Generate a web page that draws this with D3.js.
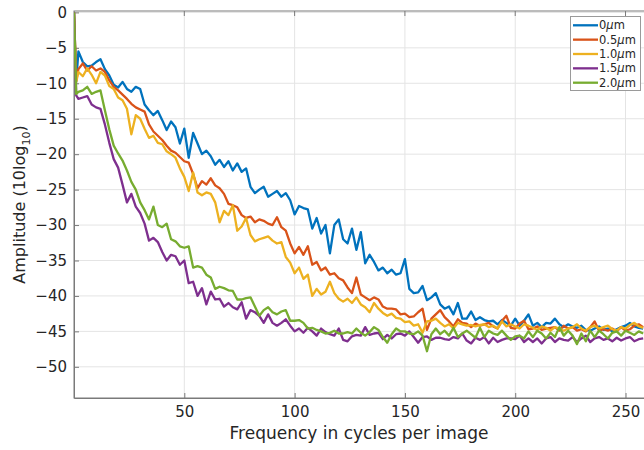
<!DOCTYPE html>
<html>
<head>
<meta charset="utf-8">
<script src="https://cdn.jsdelivr.net/npm/d3@7"></script>
<style>
  body { margin: 0; background: #fff; }
  svg { display: block; font-family: "DejaVu Sans", sans-serif; }
</style>
</head>
<body>
<div id="chart"></div>
<script>
// frequency grid: DC, 1, then every 2 cycles up to 258
const freq = [0, 1].concat(d3.range(2, 260, 2));

const labels = ["0", "0.5", "1.0", "1.5", "2.0"];
const colors = ["#0072BD", "#D95319", "#EDB120", "#7E2F8E", "#77AC30"];

const amp00 = [
  0, -9.8, -5.5, -7.0, -7.6, -7.5, -7.0, -6.6, -8.0, -8.9,
  -10.2, -10.6, -9.8, -10.8, -11.2, -10.5, -10.8, -13.0, -13.8, -14.5,
  -13.9, -15.2, -16.6, -15.4, -16.2, -18.5, -16.4, -20.5, -17.0, -18.5,
  -20.0, -19.5, -20.3, -21.5, -20.8, -21.8, -21.0, -22.3, -21.3, -22.5,
  -22.0, -24.6, -25.5, -25.0, -24.6, -26.0, -25.6, -25.2, -26.0, -25.5,
  -26.5, -28.5, -27.3, -27.6, -27.8, -30.5, -29.0, -31.2, -30.0, -34.0,
  -30.0, -29.2, -32.0, -32.6, -30.5, -33.5, -31.0, -35.4, -34.2, -35.2,
  -36.4, -36.0, -36.8, -36.3, -37.0, -36.8, -34.8, -39.0, -39.6, -39.5,
  -38.6, -40.6, -40.2, -39.6, -41.2, -41.8, -41.5, -42.6, -41.0, -43.2,
  -43.2, -42.2, -43.4, -43.0, -43.4, -43.6, -43.5, -44.0, -43.4, -43.8,
  -44.2, -43.2, -44.2, -43.5, -42.6, -44.2, -43.8, -44.4, -43.8, -43.9,
  -43.2, -44.0, -44.4, -44.0, -44.3, -44.5, -44.2, -44.8, -44.9, -44.6,
  -44.3, -44.8, -44.6, -45.0, -44.7, -44.4, -44.2, -43.8, -44.3, -44.5,
  -44.6
];

const amp05 = [
  0, -9.6, -8.0, -7.2, -8.2, -7.6, -8.2, -7.9, -8.4, -9.6,
  -10.5, -11.0, -11.6, -12.2, -12.9, -13.4, -13.7, -14.0, -15.8, -16.8,
  -17.4, -18.0, -18.8, -19.5, -19.8, -20.4, -21.0, -21.2, -22.8, -24.8,
  -23.8, -24.3, -23.4, -24.4, -24.8, -25.6, -27.0, -27.2, -27.5, -28.6,
  -29.0, -28.8, -29.6, -29.2, -29.4, -29.8, -30.0, -28.9, -30.3, -30.8,
  -32.6, -34.0, -33.1, -34.2, -33.0, -35.6, -35.2, -36.4, -36.0, -37.0,
  -36.8, -37.5, -37.8, -38.8, -39.6, -37.4, -39.8, -40.2, -40.6, -40.2,
  -40.5, -41.5, -41.8, -41.8, -41.9, -42.6, -42.5, -43.0, -42.9, -42.3,
  -41.8, -44.8, -43.2, -42.6, -42.0, -43.0, -43.6, -44.3, -43.3, -43.8,
  -43.9, -44.4, -43.9, -44.2, -44.0, -43.8, -44.3, -44.6, -43.5, -42.8,
  -44.5, -44.6, -43.9, -43.5, -44.7, -44.6, -44.3, -44.8, -44.6, -44.5,
  -44.4, -44.9, -44.2, -44.6, -44.4, -44.9, -44.7, -45.0, -44.4, -43.6,
  -44.9, -44.7, -44.9, -44.6, -45.0, -44.4, -44.9, -44.7, -44.2, -44.0,
  -44.4
];

const amp10 = [
  0, -9.8, -8.4, -9.0, -7.9, -8.8, -10.0, -8.4, -8.9, -10.4,
  -10.8, -12.0, -12.4, -13.6, -17.2, -14.5, -15.0, -16.4, -17.7, -17.4,
  -18.4, -18.6, -19.6, -20.0, -20.5, -22.0, -23.2, -25.2, -22.6, -25.4,
  -25.8, -25.4, -25.6, -26.8, -29.6, -28.0, -28.6, -27.2, -30.8, -30.2,
  -29.0, -31.4, -32.3, -32.0, -31.8, -31.6, -32.2, -32.6, -32.4, -34.5,
  -35.3, -36.8, -36.0, -37.6, -37.0, -40.0, -39.0, -39.8, -39.4, -38.0,
  -39.6, -40.4, -40.8, -40.4, -41.0, -40.2, -41.2, -41.6, -42.3, -41.0,
  -41.8, -42.4, -42.8, -42.5, -43.1, -43.2, -43.7, -43.6, -44.2, -44.0,
  -45.2, -43.6, -43.5, -43.2, -43.8, -44.3, -44.0, -44.6, -43.8, -44.0,
  -44.2, -44.1, -44.3, -44.1, -44.0, -44.4, -44.2, -44.6, -43.6, -44.3,
  -44.0, -44.3, -44.6, -44.0, -44.2, -44.5, -44.8, -44.3, -44.5, -44.9,
  -44.4, -44.6, -44.9, -44.6, -44.4, -44.0, -44.6, -44.9, -44.4, -44.2,
  -44.6, -44.4, -44.2, -44.7, -44.9, -44.4, -44.6, -44.1, -43.8, -44.3,
  -44.5
];

const amp15 = [
  0, -11.7, -12.2, -12.0, -11.8, -13.0, -13.4, -13.6, -15.8, -18.4,
  -20.7, -21.9, -24.3, -26.8, -25.6, -27.4, -28.3, -29.8, -32.2, -31.8,
  -32.4, -33.8, -35.0, -34.2, -34.4, -35.6, -35.0, -38.2, -38.0, -40.0,
  -38.9, -41.2, -39.4, -40.5, -40.4, -41.5, -41.0, -41.6, -41.9, -40.9,
  -43.2, -42.0, -42.3, -42.8, -43.8, -42.6, -43.8, -44.2, -43.8, -43.3,
  -44.2, -45.0, -44.6, -45.2, -44.5, -45.0, -45.6, -44.6, -45.1, -45.4,
  -45.6, -44.6, -46.2, -46.4, -45.7, -45.5, -45.6, -44.4, -45.5, -45.3,
  -45.2, -46.1, -45.5, -46.0, -45.4, -45.3, -45.6, -45.0, -45.8, -46.6,
  -45.8, -45.7, -46.2, -45.9, -45.9, -46.1, -46.2, -45.8, -46.0, -45.3,
  -46.3, -46.7, -45.9, -46.2, -45.8, -46.7, -45.9, -46.5, -46.2, -46.0,
  -46.0, -46.1, -45.6, -46.5, -46.0, -46.5, -46.0, -46.7, -46.0, -45.8,
  -46.5, -46.0, -46.2, -46.3, -45.8, -46.5, -46.0, -45.6, -46.5, -46.0,
  -45.8, -46.2, -46.0, -46.4, -45.9, -46.3, -46.0, -45.8, -46.4, -46.1,
  -46.0
];

const amp20 = [
  0, -11.5, -11.2, -11.0, -10.5, -11.5, -11.2, -11.0, -13.8, -16.5,
  -18.8, -19.9, -20.9, -22.3, -23.9, -25.0, -26.8, -27.9, -29.2, -27.4,
  -30.0, -30.3, -29.8, -32.0, -32.3, -33.0, -33.2, -33.0, -36.0, -35.8,
  -36.0, -37.0, -37.4, -39.0, -38.7, -38.9, -39.2, -39.3, -40.5, -40.5,
  -40.3, -40.2, -41.5, -42.8, -42.0, -41.6, -42.3, -42.6, -42.2, -42.0,
  -43.5, -43.5, -43.4, -43.8, -44.6, -44.5, -44.8, -45.0, -45.3, -45.2,
  -44.9, -45.3, -45.3, -45.1, -45.3, -44.6, -45.2, -45.6, -45.1, -44.4,
  -44.8, -45.8, -46.6, -45.4, -44.6, -45.0, -45.0, -45.3, -45.4, -45.0,
  -45.6, -47.8, -45.4, -44.6, -45.4, -44.9, -45.6, -44.5, -45.8, -45.3,
  -44.9, -45.4, -45.9, -44.5, -45.8, -44.9, -45.3, -45.5, -44.9, -45.6,
  -46.2, -45.7, -45.6, -46.0, -45.0, -45.8, -44.9, -45.3, -46.0, -45.2,
  -45.8, -44.4, -45.6, -44.9, -45.6, -46.8, -45.3, -46.4, -44.9, -45.8,
  -44.9, -45.4, -46.0, -45.2, -45.0, -45.6, -44.9, -45.2, -45.5, -45.0,
  -45.3
];

const series = [amp00, amp05, amp10, amp15, amp20];

const xTicks = [50, 100, 150, 200, 250];
const yTicks = [0, -5, -10, -15, -20, -25, -30, -35, -40, -45, -50];

////////////////////////////////////////////////////////////////////////
// layout

let width = 644, height = 450;
let plotLeft = 74, plotTop = 11, plotBottom = 398, plotRight = 652;
let textColor = "#262626";
let axisColor = "#7a7a7a";

let svg = d3.select("#chart").append("svg")
  .attr("width", width).attr("height", height);

let xScale = d3.scaleLinear().domain([0, 262]).range([plotLeft, plotRight]);
let yScale = d3.scaleLinear().domain([-54.4, 0.2]).range([plotBottom, plotTop]);

// grid
svg.append("g").selectAll("line")
  .data(xTicks).enter().append("line")
  .attr("x1", d => xScale(d)).attr("x2", d => xScale(d))
  .attr("y1", plotTop).attr("y2", plotBottom)
  .attr("stroke", "#e4e4e4").attr("stroke-width", 1);

svg.append("g").selectAll("line")
  .data(yTicks).enter().append("line")
  .attr("x1", plotLeft).attr("x2", plotRight)
  .attr("y1", d => yScale(d)).attr("y2", d => yScale(d))
  .attr("stroke", "#e4e4e4").attr("stroke-width", 1);

// box
svg.append("rect")
  .attr("x", plotLeft).attr("y", plotTop)
  .attr("width", plotRight - plotLeft).attr("height", plotBottom - plotTop)
  .attr("fill", "none").attr("stroke", axisColor).attr("stroke-width", 1);

// axes
let xAxis = d3.axisBottom(xScale).tickValues(xTicks)
  .tickSizeInner(-5).tickSizeOuter(0).tickPadding(8);
let yAxis = d3.axisLeft(yScale).tickValues(yTicks)
  .tickSizeInner(-5).tickSizeOuter(0).tickPadding(7);

let gx = svg.append("g")
  .attr("transform", "translate(0," + plotBottom + ")")
  .call(xAxis);
let gy = svg.append("g")
  .attr("transform", "translate(" + plotLeft + ",0)")
  .call(yAxis);

[gx, gy].forEach(g => {
  g.select(".domain").attr("stroke", axisColor);
  g.selectAll(".tick line").attr("stroke", axisColor);
  g.selectAll(".tick text")
    .attr("fill", textColor)
    .style("font-size", "15px")
    .style("font-family", "DejaVu Sans, sans-serif");
});

// mirrored ticks on the top edge
svg.append("g").selectAll("line")
  .data(xTicks).enter().append("line")
  .attr("x1", d => xScale(d)).attr("x2", d => xScale(d))
  .attr("y1", plotTop).attr("y2", plotTop + 5)
  .attr("stroke", axisColor);

// lines
svg.append("clipPath").attr("id", "plotclip")
  .append("rect")
  .attr("x", plotLeft).attr("y", plotTop)
  .attr("width", plotRight - plotLeft).attr("height", plotBottom - plotTop);

let line = d3.line()
  .x((d, i) => xScale(freq[i]))
  .y(d => yScale(d));

svg.append("g").attr("clip-path", "url(#plotclip)")
  .selectAll("path")
  .data(series).enter().append("path")
  .attr("d", line)
  .attr("fill", "none")
  .attr("stroke", (d, i) => colors[i])
  .attr("stroke-width", 2.3)
  .attr("stroke-linejoin", "round");

// axis labels
svg.append("text")
  .attr("x", 359).attr("y", 439)
  .attr("text-anchor", "middle")
  .attr("fill", textColor)
  .style("font-size", "17px")
  .text("Frequency in cycles per image");

let ylab = svg.append("text")
  .attr("transform", "translate(25," + ((plotTop + plotBottom) / 2) + ") rotate(-90)")
  .attr("text-anchor", "middle")
  .attr("fill", textColor)
  .style("font-size", "16px");
ylab.append("tspan").text("Amplitude (10log");
ylab.append("tspan").attr("dy", 5).style("font-size", "11px").text("10");
ylab.append("tspan").attr("dy", -5).text(")");

// legend
let legend = svg.append("g");
legend.append("rect")
  .attr("x", 570.5).attr("y", 16.5)
  .attr("width", 70).attr("height", 74)
  .attr("fill", "#fff").attr("stroke", "#9a9a9a");

let items = legend.selectAll("g.item")
  .data(labels).enter().append("g")
  .attr("class", "item")
  .attr("transform", (d, i) => "translate(0," + (25.3 + i * 14.35) + ")");

items.append("line")
  .attr("x1", 573).attr("x2", 598)
  .attr("stroke", (d, i) => colors[i])
  .attr("stroke-width", 2.3);

let lt = items.append("text")
  .attr("x", 599).attr("dy", "0.36em")
  .attr("fill", textColor)
  .style("font-size", "11.5px");
lt.append("tspan").text(d => d);
lt.append("tspan").style("font-style", "italic").text("\u03bc");
lt.append("tspan").text("m");
</script>
</body>
</html>
